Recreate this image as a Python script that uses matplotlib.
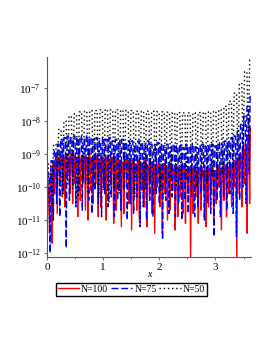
import numpy as np
import matplotlib.pyplot as plt

plt.rcParams['font.family'] = 'Liberation Serif'
plt.rcParams['mathtext.fontset'] = 'custom'
plt.rcParams['mathtext.rm'] = 'Liberation Serif'
plt.rcParams['mathtext.it'] = 'Liberation Serif:italic'

x_end = 3.63

# log10 of the error: dips (local minima) and peaks (local maxima)
red_dips = [-12.1, -11.4, -11.7, -10.2, -10.8, -9.9, -10.3, -10.6, -9.8, -10.2,
            -10.5, -9.9, -10.9, -10.4, -9.8, -10.7, -11.0, -10.1, -10.5, -9.9,
            -10.9, -10.6, -10.0, -11.0, -10.4, -9.9, -11.1, -10.7, -10.1, -11.2,
            -10.8, -10.0, -10.5, -11.3, -10.2, -10.7, -11.0, -10.1, -10.6, -11.2,
            -10.3, -10.8, -11.4, -10.0, -10.6, -11.4, -10.2, -11.0, -10.7, -10.1,
            -11.3, -10.9, -10.3, -10.8, -11.1, -10.2, -12.2, -10.8, -10.3, -11.1,
            -10.7, -10.1, -11.2, -10.6, -10.2, -11.0, -10.5, -10.0, -11.3, -10.4,
            -10.9, -10.2, -10.6, -10.0, -12.2, -10.2, -10.6, -9.9, -11.4, -10.5]
red_peaks = [-10.0, -9.6, -9.3, -9.15, -9.1, -9.05, -9.1, -9.0, -9.1, -9.0,
             -9.05, -9.1, -9.0, -9.15, -9.05, -9.1, -9.0, -9.15, -9.1, -9.05,
             -9.15, -9.05, -9.2, -9.1, -9.15, -9.1, -9.2, -9.15, -9.2, -9.25,
             -9.15, -9.2, -9.25, -9.2, -9.3, -9.2, -9.25, -9.3, -9.2, -9.35,
             -9.25, -9.3, -9.35, -9.3, -9.4, -9.3, -9.35, -9.4, -9.3, -9.45,
             -9.35, -9.4, -9.45, -9.35, -9.5, -9.4, -9.45, -9.4, -9.5, -9.4,
             -9.45, -9.5, -9.4, -9.45, -9.4, -9.5, -9.35, -9.45, -9.4, -9.35,
             -9.4, -9.3, -9.3, -9.2, -9.15, -9.0, -8.85, -8.7, -8.45, -8.2]

blue_dips = [-12.1, -12.0, -11.0, -10.5, -10.9, -10.2, -11.85, -10.4, -10.0, -10.6,
             -10.1, -10.7, -9.9, -10.4, -10.8, -10.1, -10.5, -10.9, -10.2, -10.6,
             -10.3, -10.9, -10.4, -10.7, -10.1, -11.0, -10.5, -10.8, -10.3, -11.2,
             -10.6, -11.0, -10.4, -10.9, -10.2, -10.5, -11.6, -10.4, -10.8, -10.3,
             -10.9, -10.5, -11.0, -10.4, -10.8, -10.3, -10.9, -10.6, -10.2, -11.0,
             -10.5, -10.8, -11.5, -10.4, -10.9, -10.3, -10.7, -10.2, -10.8, -11.5,
             -10.4, -10.0, -10.5, -9.6]
blue_peaks = [-9.6, -9.2, -8.9, -8.7, -8.55, -8.5, -8.45, -8.5, -8.45, -8.5,
              -8.45, -8.55, -8.45, -8.5, -8.55, -8.5, -8.6, -8.5, -8.55, -8.5,
              -8.6, -8.55, -8.6, -8.55, -8.65, -8.6, -8.6, -8.7, -8.6, -8.65,
              -8.7, -8.6, -8.7, -8.75, -8.65, -8.7, -8.75, -8.7, -8.8, -8.7,
              -8.75, -8.7, -8.8, -8.7, -8.75, -8.7, -8.8, -8.75, -8.7, -8.75,
              -8.7, -8.7, -8.75, -8.65, -8.7, -8.6, -8.6, -8.5, -8.45, -8.3,
              -8.1, -7.85, -7.55, -7.2]

black_dips = [-12.1, -10.5, -10.0, -10.2, -9.9, -10.1, -10.3, -9.9, -10.2, -10.0,
              -10.3, -10.1, -10.45, -10.0, -10.2, -9.9, -10.1, -10.3, -9.9, -10.1,
              -9.8, -10.1, -10.15, -9.9, -9.8, -10.0, -10.0, -9.8, -9.9, -10.0,
              -9.7, -9.9, -9.7, -9.8, -9.6, -9.6, -9.4, -9.2, -8.9, -8.5]
black_peaks = [-9.3, -8.7, -8.25, -8.0, -7.85, -7.78, -7.72, -7.7, -7.68, -7.68,
               -7.66, -7.65, -7.66, -7.66, -7.67, -7.68, -7.68, -7.7, -7.7, -7.7,
               -7.7, -7.72, -7.72, -7.73, -7.74, -7.74, -7.75, -7.75, -7.75, -7.74,
               -7.74, -7.72, -7.7, -7.65, -7.55, -7.4, -7.15, -6.85, -6.5, -6.15]

labels = ['N=100', 'N=75', 'N=50']
colors = ['#ff0000', '#0000ff', 'black']
styles = ['-', (0, (5, 2)), (0, (1, 2))]


def zigzag(dips, peaks, shoulder=0.45):
    """ sharp dips, broad peaks, on an even grid over [0, x_end] """
    n = len(dips)
    h = x_end / (2 * n - 1)
    xd = 2 * h * np.arange(n)
    xp = xd + h
    x = np.empty(3 * n)
    y = np.empty(3 * n)
    x[0::3], y[0::3] = xd, dips
    x[1::3], y[1::3] = xp - shoulder * h, peaks
    x[2::3], y[2::3] = xp + shoulder * h, peaks
    x = np.minimum(x, x_end)
    return x, 10.0 ** y


fig = plt.figure(figsize=(2.73, 3.53), dpi=100)
ax = fig.add_axes([0.172, 0.272, 0.747, 0.567])

series = [(red_dips, red_peaks), (blue_dips, blue_peaks), (black_dips, black_peaks)]
for (d, p), lab, c, ls in zip(series, labels, colors, styles):
    x, y = zigzag(d, p)
    ax.plot(x, y, color=c, lw=1.0, linestyle=ls, label=lab)

ax.set_yscale('log')
ax.set_xlim(0, x_end)
ax.set_ylim(10 ** -12.12, 10 ** -6.05)
ax.set_yticks([1e-12, 1e-11, 1e-10, 1e-9, 1e-8, 1e-7])
ax.yaxis.set_minor_locator(plt.NullLocator())
ax.set_xticks([0, 1, 2, 3])
ax.set_xticks([0.5, 1.5, 2.5, 3.5], minor=True)

for s in ['top', 'right']:
    ax.spines[s].set_visible(False)
for s in ['left', 'bottom']:
    ax.spines[s].set_color('#555555')
    ax.spines[s].set_linewidth(0.8)
ax.tick_params(labelsize=8, length=2.5, width=0.6, color='#555555', pad=2)
ax.tick_params(which='minor', length=1.5, width=0.5, color='#555555')

fig.text(0.546, 0.221, 'x', fontsize=7, style='italic', ha='center', va='center')

fig.legend(loc='center', bbox_to_anchor=(0.481, 0.181), ncol=3, fontsize=7,
           frameon=True, fancybox=False, edgecolor='black', framealpha=1,
           handlelength=2.2, handletextpad=0.2, columnspacing=0.3,
           borderpad=0.2, borderaxespad=0)

fig.savefig('out.png', dpi=100)
